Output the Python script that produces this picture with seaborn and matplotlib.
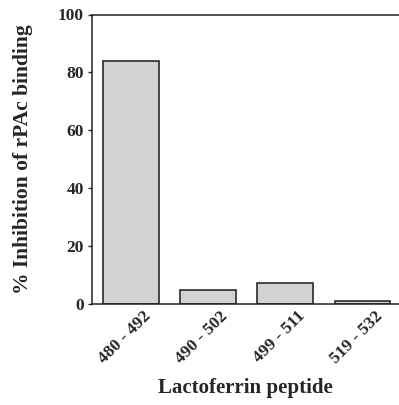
import matplotlib
matplotlib.use("Agg")
import matplotlib.pyplot as plt
import matplotlib.transforms as mtransforms
import seaborn as sns
import pandas as pd

peptides = ["480 - 492", "490 - 502", "499 - 511", "519 - 532"]
inhibition = [84, 5, 7.3, 1.2]
yticks = [0, 20, 40, 60, 80, 100]

df = pd.DataFrame({"peptide": peptides, "inhibition": inhibition})

sns.set_theme(style="white")
plt.rcParams["font.family"] = ["Liberation Serif", "DejaVu Serif"]
plt.rcParams["font.weight"] = "bold"

fig = plt.figure(figsize=(3.99, 4.05), dpi=100)
ax = fig.add_axes([92 / 399, 1 - 304 / 405, 1 - 92 / 399, (304 - 14.5) / 405])

sns.barplot(data=df, x="peptide", y="inhibition", ax=ax, color="#d2d2d2",
            edgecolor="#2a2a2a", linewidth=1.2, width=0.72, saturation=1)

ax.set_xlim(-0.5, 3.47)
ax.set_ylim(0, 100)
ax.set_yticks(yticks)
ax.set_yticklabels([str(v) for v in yticks], fontsize=12.5, fontweight="bold")
ax.tick_params(axis="y", direction="out", length=3, width=1, color="#222222",
               pad=3, left=True)
ax.tick_params(axis="x", length=0, pad=3)

offset = mtransforms.ScaledTranslation(-6 / 100, 0, fig.dpi_scale_trans)
for lbl in ax.get_xticklabels():
    lbl.set_rotation(45)
    lbl.set_ha("center")
    lbl.set_fontsize(12.5)
    lbl.set_fontweight("bold")
    lbl.set_transform(lbl.get_transform() + offset)

for side in ["left", "bottom", "top"]:
    ax.spines[side].set_visible(True)
    ax.spines[side].set_color("#222222")
    ax.spines[side].set_linewidth(1.1)
ax.spines["right"].set_visible(False)

ax.set_ylabel("% Inhibition of rPAc binding", fontsize=15.5, fontweight="bold",
              labelpad=18)
ax.set_xlabel("Lactoferrin peptide", fontsize=15, fontweight="bold",
              labelpad=8)

fig.savefig("out.png", dpi=100)
